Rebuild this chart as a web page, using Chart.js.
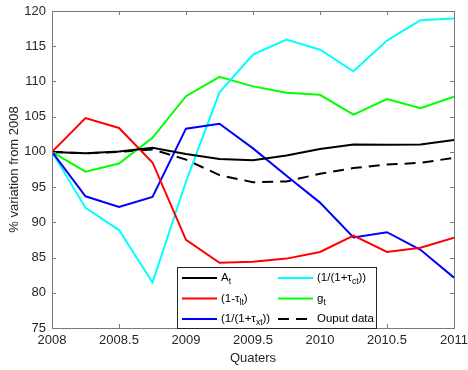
<!DOCTYPE html>
<html>
<head>
<meta charset="utf-8">
<script src="https://cdn.jsdelivr.net/npm/chart.js@4/dist/chart.umd.min.js"></script>
<style>
  html, body { margin: 0; padding: 0; background: #fff; }
  #wrap { width: 468px; height: 370px; position: relative; }
</style>
</head>
<body>
<div id="wrap"><canvas id="c" width="468" height="370"></canvas></div>
<script>
// ---- data ----
const quarters = [2008, 2008.25, 2008.5, 2008.75, 2009, 2009.25, 2009.5, 2009.75, 2010, 2010.25, 2010.5, 2010.75, 2011];
const A_t      = [100, 99.8, 100.05, 100.6, 99.7, 99.0, 98.8, 99.5, 100.4, 101.05, 101.0, 101.05, 101.7];
const oneMinusTauL = [100, 104.8, 103.4, 98.5, 87.5, 84.25, 84.4, 84.85, 85.8, 88.1, 85.8, 86.4, 87.8];
const invTauX  = [100, 93.7, 92.2, 93.6, 103.3, 104.0, 100.5, 96.6, 92.8, 87.85, 88.6, 86.1, 82.15];
const invTauC  = [100, 92.05, 88.9, 81.45, 95.8, 108.45, 113.8, 115.95, 114.5, 111.45, 115.8, 118.7, 118.95];
const g_t      = [100, 97.2, 98.35, 102.0, 107.9, 110.65, 109.3, 108.4, 108.1, 105.3, 107.5, 106.2, 107.85];
const outputData = [100, 99.8, 100.0, 100.35, 98.9, 96.7, 95.7, 95.8, 96.9, 97.7, 98.2, 98.45, 99.15];
const xTickLabels = ['2008', '2008.5', '2009', '2009.5', '2010', '2010.5', '2011'];
const yTickLabels = ['75', '80', '85', '90', '95', '100', '105', '110', '115', '120'];
// legend names: segments of [text, isSubscript]
const names = {
  A:   [['A', false], ['t', true]],
  L:   [['(1-τ', false], ['lt', true], [')', false]],
  X:   [['(1/(1+τ', false], ['xt', true], ['))', false]],
  C:   [['(1/(1+τ', false], ['ct', true], ['))', false]],
  G:   [['g', false], ['t', true]],
  O:   [['Ouput data', false]]
};

const pts = arr => arr.map((v, i) => ({ x: quarters[i], y: v }));
const FONT = '"Liberation Sans", Arial, Helvetica, sans-serif';
const TXT = '#262626';

const datasets = [
  { key: 'A', data: pts(A_t), borderColor: '#000000', dash: [] },
  { key: 'L', data: pts(oneMinusTauL), borderColor: '#ff0000', dash: [] },
  { key: 'X', data: pts(invTauX), borderColor: '#0000ff', dash: [] },
  { key: 'C', data: pts(invTauC), borderColor: '#00ffff', dash: [] },
  { key: 'G', data: pts(g_t), borderColor: '#00ff00', dash: [] },
  { key: 'O', data: pts(outputData), borderColor: '#000000', dash: [11, 7] }
].map(d => ({
  label: d.key,
  data: d.data,
  borderColor: d.borderColor,
  backgroundColor: d.borderColor,
  borderDash: d.dash,
  borderWidth: 2,
  pointRadius: 0,
  tension: 0,
  fill: false
}));

function drawSegs(ctx, segs, x, y) {
  for (const [t, sub] of segs) {
    ctx.font = (sub ? '8.5px ' : '11.5px ') + FONT;
    ctx.fillText(t, x, sub ? y + 4 : y);
    x += ctx.measureText(t).width;
  }
}

const boxPlugin = {
  id: 'boxPlugin',
  afterDraw(chart) {
    const ctx = chart.ctx;
    const a = chart.chartArea;
    const xs = chart.scales.x, ys = chart.scales.y;
    ctx.save();
    ctx.strokeStyle = '#7a7a7a';
    ctx.lineWidth = 1;
    ctx.strokeRect(Math.round(a.left) + 0.5, Math.round(a.top) + 0.5,
                   Math.round(a.right - a.left), Math.round(a.bottom - a.top));
    const TL = 4;
    ctx.beginPath();
    xTickLabels.forEach(l => {
      const px = Math.round(xs.getPixelForValue(parseFloat(l))) + 0.5;
      ctx.moveTo(px, a.bottom); ctx.lineTo(px, a.bottom - TL);
      ctx.moveTo(px, a.top); ctx.lineTo(px, a.top + TL);
    });
    yTickLabels.forEach(l => {
      const py = Math.round(ys.getPixelForValue(parseFloat(l))) + 0.5;
      ctx.moveTo(a.left, py); ctx.lineTo(a.left + TL, py);
      ctx.moveTo(a.right, py); ctx.lineTo(a.right - TL, py);
    });
    ctx.stroke();

    // legend
    const lx = 177.5, ly = 267.5, lw = 199, lh = 61;
    ctx.fillStyle = '#ffffff';
    ctx.fillRect(lx, ly, lw, lh);
    ctx.strokeStyle = '#262626';
    ctx.strokeRect(lx, ly, lw, lh);
    const entries = [
      { ds: 0, col: 0, row: 0 }, { ds: 1, col: 0, row: 1 }, { ds: 2, col: 0, row: 2 },
      { ds: 3, col: 1, row: 0 }, { ds: 4, col: 1, row: 1 }, { ds: 5, col: 1, row: 2 }
    ];
    const colX = [182, 278];
    const rowY = [278, 298.5, 319];
    ctx.textBaseline = 'middle';
    ctx.textAlign = 'left';
    entries.forEach(e => {
      const ds = chart.data.datasets[e.ds];
      const x0 = colX[e.col], y0 = rowY[e.row];
      ctx.beginPath();
      ctx.strokeStyle = ds.borderColor;
      ctx.lineWidth = 2;
      ctx.setLineDash(ds.borderDash || []);
      ctx.moveTo(x0, y0); ctx.lineTo(x0 + 35, y0);
      ctx.stroke();
      ctx.setLineDash([]);
      ctx.fillStyle = '#000';
      drawSegs(ctx, names[ds.label], x0 + 39, y0);
    });
    ctx.restore();
  }
};

new Chart(document.getElementById('c'), {
  type: 'line',
  data: { datasets },
  options: {
    responsive: false,
    animation: false,
    devicePixelRatio: 1,
    layout: { padding: { top: 11, right: 14, bottom: 4, left: 0 } },
    plugins: { legend: { display: false }, tooltip: { enabled: false } },
    scales: {
      x: {
        type: 'linear',
        min: 2008, max: 2011,
        afterBuildTicks: s => { s.ticks = xTickLabels.map(l => ({ value: parseFloat(l) })); },
        afterFit: s => { s.height = 38; s.paddingLeft = 0; s.paddingRight = 0; },
        grid: { display: false, drawTicks: false },
        border: { display: false },
        ticks: {
          padding: 5, color: TXT, maxRotation: 0, autoSkip: false,
          font: { family: FONT, size: 13 },
          callback: (v) => xTickLabels.find(l => parseFloat(l) === v) || ''
        },
        title: { display: true, text: 'Quaters', color: TXT, padding: { top: 4, bottom: 0 },
                 font: { family: FONT, size: 13 } }
      },
      y: {
        type: 'linear',
        min: 75, max: 120,
        afterBuildTicks: s => { s.ticks = yTickLabels.map(l => ({ value: parseFloat(l) })); },
        afterFit: s => { s.width = 52; s.paddingTop = 0; s.paddingBottom = 0; },
        grid: { display: false, drawTicks: false },
        border: { display: false },
        ticks: {
          padding: 6, color: TXT, autoSkip: false,
          font: { family: FONT, size: 13 },
          callback: (v) => yTickLabels.find(l => parseFloat(l) === v) || ''
        },
        title: { display: true, text: '% variation from 2008', color: TXT, padding: { top: 7, bottom: 0 },
                 font: { family: FONT, size: 13 } }
      }
    }
  },
  plugins: [boxPlugin]
});
</script>
</body>
</html>
